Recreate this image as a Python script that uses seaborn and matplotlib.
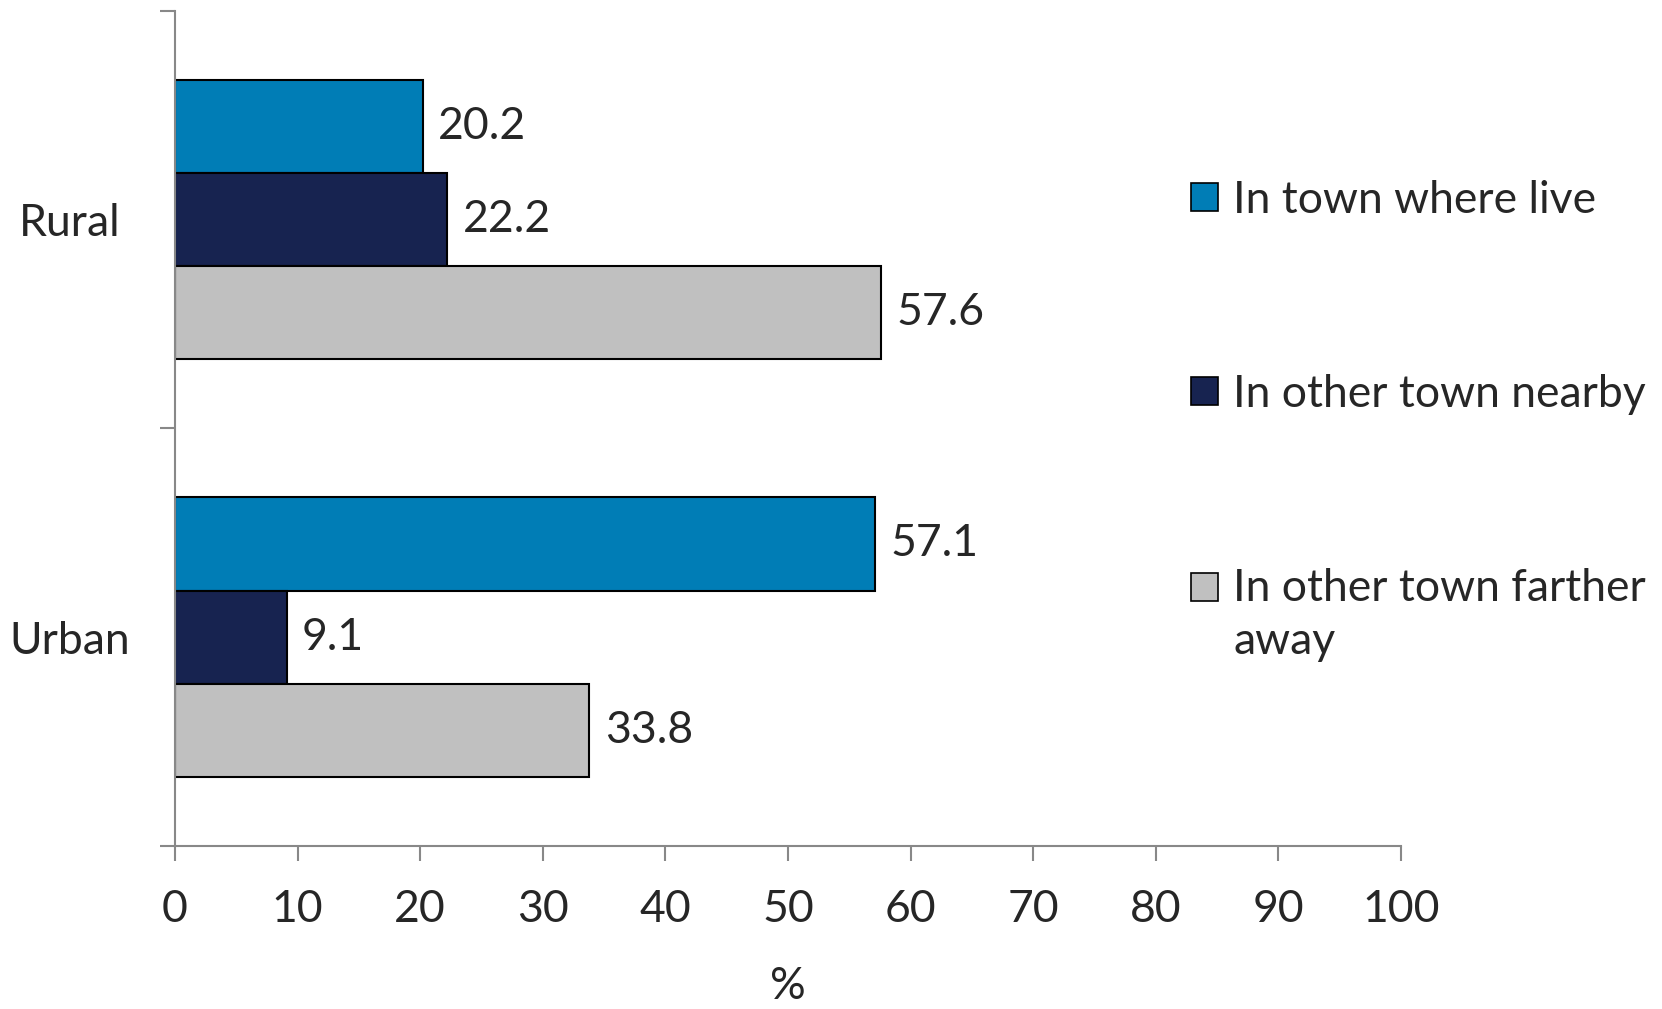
import numpy as np
import matplotlib
matplotlib.use('Agg')
import matplotlib.pyplot as plt
import pandas as pd
import seaborn as sns

areas = ['Rural', 'Urban']
series = ['In town where live', 'In other town nearby', 'In other town farther\naway']
town_where_live = [20.2, 57.1]
other_town_nearby = [22.2, 9.1]
other_town_farther = [57.6, 33.8]
colors = ['#007DB6', '#172350', '#C0C0C0']
xticks = [0, 10, 20, 30, 40, 50, 60, 70, 80, 90, 100]

df = pd.DataFrame({
    'area': areas * 3,
    'where': [series[0]] * 2 + [series[1]] * 2 + [series[2]] * 2,
    'pct': town_where_live + other_town_nearby + other_town_farther,
})

sns.set_style('white')
plt.rcParams['font.family'] = ['Lato', 'DejaVu Sans']
fs = 32
plt.rcParams['font.size'] = fs

fig = plt.figure(figsize=(16.62, 10.09), dpi=100)
ax = fig.add_axes([0.1053, 0.1615, 0.843 - 0.1053, 0.9895 - 0.1615])

sns.barplot(df, y='area', x='pct', hue='where', orient='h', ax=ax,
            palette=colors, width=0.67, edgecolor='black', linewidth=1.5,
            saturation=1, legend=False)

for c in ax.containers:
    ax.bar_label(c, fmt='%.1f', padding=11, fontsize=fs)

ax.set_xlim(0, 100)
ax.set_ylim(1.5, -0.5)
ax.set_xticks(xticks)
ax.set_xticklabels([str(t) for t in xticks])
ax.set_yticks([0, 1])
ax.set_yticklabels(areas, ha='center')
ax.set_yticks([-0.5, 0.5, 1.5], minor=True)
ax.tick_params(axis='y', which='major', length=0, pad=76)
ax.tick_params(axis='y', which='minor', length=11, width=1.5, color='#888888', direction='out', left=True)
ax.tick_params(axis='x', length=11, width=1.5, color='#888888', direction='out', bottom=True, pad=20)
ax.set_ylabel('')
ax.set_xlabel('%', labelpad=26)

sns.despine(ax=ax)
for s in ['left', 'bottom']:
    ax.spines[s].set_color('#888888')
    ax.spines[s].set_linewidth(1.5)

handles = [plt.Rectangle((0, 0), 1, 1, facecolor=c, edgecolor='black', linewidth=1.2) for c in colors]
leg = fig.legend(handles, series, loc='upper left', bbox_to_anchor=(0.7166, 0.822),
                 frameon=False, fontsize=fs, borderpad=0, borderaxespad=0,
                 handlelength=0.6, handleheight=0.6, handletextpad=0.35, labelspacing=3.45)
leg.get_texts()[2].set_linespacing(1.35)
# keep the box of the wrapped entry level with its first line
h3 = leg.legend_handles[2]
h3.set_y(h3.get_y() + 0.65 * fs)

plt.savefig('out.png', dpi=100)
